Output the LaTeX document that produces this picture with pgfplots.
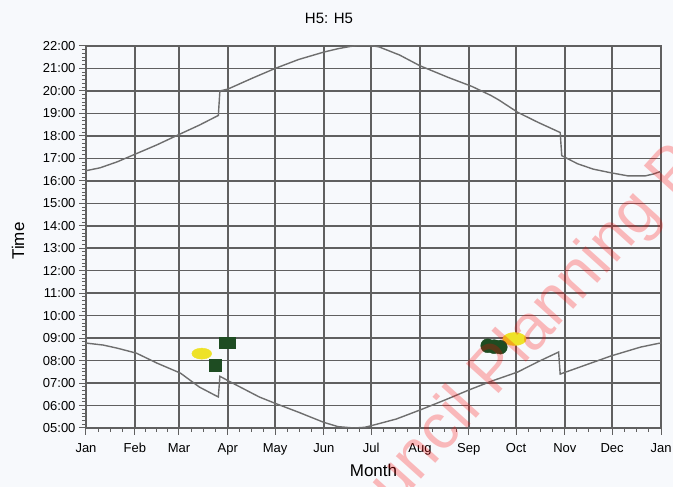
\documentclass[border=0pt]{standalone}
\usepackage{fontspec}
\setmainfont{Liberation Sans}
\usepackage{pgfplots}
\pgfplotsset{compat=1.18}
\usetikzlibrary{calc,backgrounds}

\definecolor{gridgray}{RGB}{96,96,96}
\definecolor{curvegray}{RGB}{110,110,110}
\definecolor{blobyellow}{RGB}{238,226,40}
\definecolor{blobgreen}{RGB}{30,76,34}
\definecolor{pagebg}{RGB}{247,249,252}

\begin{document}
\begin{tikzpicture}
\begin{axis}[
  name=ax,
  scale only axis,
  width=575pt, height=382pt,
  xmin=0, xmax=365, ymin=5, ymax=22,
  xtick={0,31,59,90,120,151,181,212,243,273,304,334,365},
  xticklabels={Jan,Feb,Mar,Apr,May,Jun,Jul,Aug,Sep,Oct,Nov,Dec,Jan},
  minor xtick={7.75,15.5,23.25,38,45,52,66.75,74.5,82.25,97.5,105,112.5,
    127.75,135.5,143.25,158.5,166,173.5,188.75,196.5,204.25,219.75,227.5,235.25,
    250.5,258,265.5,280.75,288.5,296.25,311.5,319,326.5,341.75,349.5,357.25},
  ytick={5,6,...,22},
  yticklabels={05:00,06:00,07:00,08:00,09:00,10:00,11:00,12:00,13:00,14:00,
    15:00,16:00,17:00,18:00,19:00,20:00,21:00,22:00},
  minor y tick num=5,
  xtick pos=bottom, ytick pos=left,
  tick align=outside,
  major tick length=7pt, minor tick length=4pt,
  tick style={gridgray, line width=1pt},
  grid=major,
  major grid style={gridgray, line width=1.5pt},
  axis line style={gridgray, line width=1.5pt},
  ticklabel style={font=\fontsize{13}{15}\selectfont},
  xticklabel style={yshift=-5pt},
]
% sunset
\addplot[curvegray, line width=1.4pt] coordinates {
  (0,16.45) (9,16.58) (20,16.85) (32,17.21) (45,17.6) (59,18.06) (72,18.48)
  (84,18.91) (85,20.0) (90,20.08) (105,20.55) (120,21.0) (135,21.4) (151,21.73)
  (160,21.88) (167,21.97) (174,22.04) (180,22.03) (186,21.96) (199,21.6)
  (212,21.12) (230,20.6) (245,20.2) (257,19.8) (262,19.6) (274,19.05) (287,18.6)
  (301,18.15) (302,17.12) (312,16.76) (322,16.52) (333,16.36) (344,16.22)
  (355,16.22) (360,16.3) (365,16.42)
};
% sunrise
\addplot[curvegray, line width=1.4pt] coordinates {
  (0,8.78) (11,8.69) (20,8.55) (32,8.33) (45,7.89) (60,7.44) (72,6.82) (84,6.38)
  (85,7.3) (93,7.0) (110,6.38) (120,6.1) (135,5.7) (151,5.25) (160,5.06)
  (170,5.0) (177,5.03) (182,5.12) (197,5.4) (212,5.8) (228,6.25) (243,6.69)
  (258,7.1) (274,7.49) (287,7.95) (300,8.38) (301,7.4) (317,7.8) (333,8.2)
  (352,8.6) (363,8.76) (365,8.78)
};
% yellow patches
\addplot[only marks, mark=*, mark size=5.5pt, color=blobyellow,
  mark options={xscale=1.8, draw=none, fill=blobyellow}] coordinates {
  (73.5,8.31)
};
\addplot[only marks, mark=*, mark size=6.5pt, color=blobyellow,
  mark options={xscale=1.8, draw=none, fill=blobyellow}] coordinates {
  (272,8.96)
};
% green patches
\addplot[only marks, mark=square*, mark size=5.5pt, color=blobgreen,
  mark options={draw=none, fill=blobgreen}] coordinates {
  (88,8.8) (91,8.8)
};
\addplot[only marks, mark=square*, mark size=6pt, color=blobgreen,
  mark options={draw=none, fill=blobgreen}] coordinates {
  (82.2,7.78)
};
\addplot[only marks, mark=*, mark size=7pt, color=blobgreen,
  mark options={draw=none, fill=blobgreen}] coordinates {
  (255,8.66) (259,8.62) (263,8.6)
};
\end{axis}
\node[font=\fontsize{15}{17}\selectfont] at ($(ax.north west)+(243pt,28pt)$) {H5: H5};
\node[font=\fontsize{17}{19}\selectfont] at ($(ax.south)+(0pt,-42pt)$) {Month};
\node[font=\fontsize{17}{19}\selectfont, rotate=90] at ($(ax.west)+(-68pt,-4pt)$) {Time};
\node[overlay, anchor=base west, rotate=48, text=red, text opacity=0.26,
  font=\fontsize{64}{64}\selectfont] at ($(ax.south west)+(252pt,-144pt)$)
  {Council Planning Portal};
\pgfresetboundingbox
\path[use as bounding box] ($(ax.south west)+(-86pt,-59pt)$) rectangle ($(ax.north east)+(12pt,46pt)$);
\begin{scope}[on background layer]
  \fill[pagebg] ($(ax.south west)+(-86pt,-59pt)$) rectangle ($(ax.north east)+(12pt,46pt)$);
\end{scope}
\end{tikzpicture}
\end{document}
